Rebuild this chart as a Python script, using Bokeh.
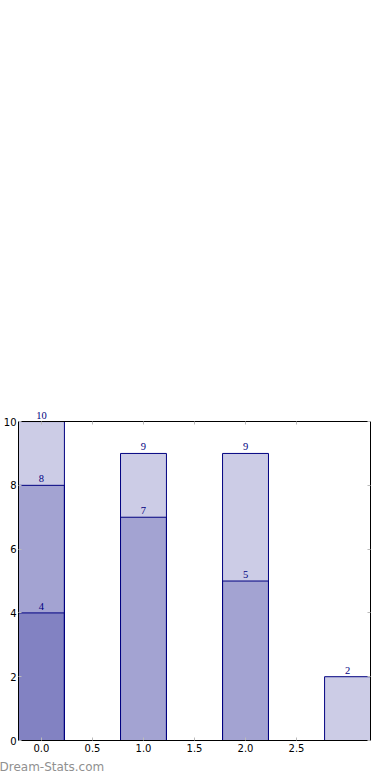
from bokeh.plotting import figure
from bokeh.models import (Range1d, FixedTicker, LinearAxis, Title, ColumnDataSource,
                          NumeralTickFormatter)
from bokeh.embed import file_html
from bokeh.resources import INLINE

categories = [0, 1, 2, 3]
series_a = [10, 9, 9, 2]
series_b = [8, 7, 5, 0]
series_c = [4, 0, 0, 0]
x_ticks = [0.0, 0.5, 1.0, 1.5, 2.0, 2.5]
y_ticks = [0, 2, 4, 6, 8, 10]

FONT = "DejaVu Sans"
NAVY = "#000080"
Y_MAX = 10
X_MIN, X_MAX = -0.225, 3.225

p = figure(width=380, height=780, output_backend="svg", toolbar_location=None,
           x_range=Range1d(X_MIN, X_MAX), y_range=Range1d(0, 10.66),
           min_border_left=0, min_border_right=10, min_border_top=400, min_border_bottom=40)
p.grid.visible = False
p.outline_line_color = None
p.background_fill_color = "white"
p.border_fill_color = "white"

def style(ax):
    ax.axis_line_color = "black"
    ax.axis_line_width = 1
    ax.major_tick_in = 3
    ax.major_tick_out = 0
    ax.minor_tick_line_color = None
    ax.major_tick_line_color = "#bbbbbb"
    ax.major_label_text_font = FONT
    ax.major_label_text_font_size = "10px"
    ax.major_label_text_color = "black"
    ax.major_label_standoff = 3

style(p.xaxis[0])
style(p.yaxis[0])
p.yaxis[0].major_label_standoff = 2
p.xaxis[0].ticker = FixedTicker(ticks=x_ticks)
p.xaxis[0].formatter = NumeralTickFormatter(format="0.0")
p.yaxis[0].ticker = FixedTicker(ticks=y_ticks)
p.yaxis[0].bounds = (0, Y_MAX)

top_ax = LinearAxis(ticker=FixedTicker(ticks=x_ticks), fixed_location=Y_MAX)
style(top_ax)
top_ax.major_label_text_font_size = "0px"
top_ax.major_label_standoff = 0
right_ax = LinearAxis(ticker=FixedTicker(ticks=y_ticks), bounds=(0, Y_MAX))
style(right_ax)
right_ax.major_label_text_font_size = "0px"
right_ax.major_label_standoff = 0
p.add_layout(top_ax, "above")
p.add_layout(right_ax, "right")

for series in (series_a, series_b, series_c):
    xs = [c for c, v in zip(categories, series) if v > 0]
    vs = [v for v in series if v > 0]
    src = ColumnDataSource(dict(x=xs, top=vs, lab=[str(v) for v in vs]))
    p.vbar(x="x", top="top", bottom=0, width=0.45, source=src,
           fill_color=NAVY, fill_alpha=0.2, line_color=NAVY, line_width=1)
    p.text(x="x", y="top", text="lab", source=src, text_align="center",
           text_baseline="bottom", y_offset=-3, text_color=NAVY,
           text_font=FONT, text_font_size="10.5px")

wm = Title(text="Dream-Stats.com", align="left", offset=-19, standoff=7,
           text_font=FONT, text_font_size="12px", text_color="#909090",
           text_font_style="normal")
p.add_layout(wm, "below")

open("out.html", "w").write(file_html(p, INLINE))
